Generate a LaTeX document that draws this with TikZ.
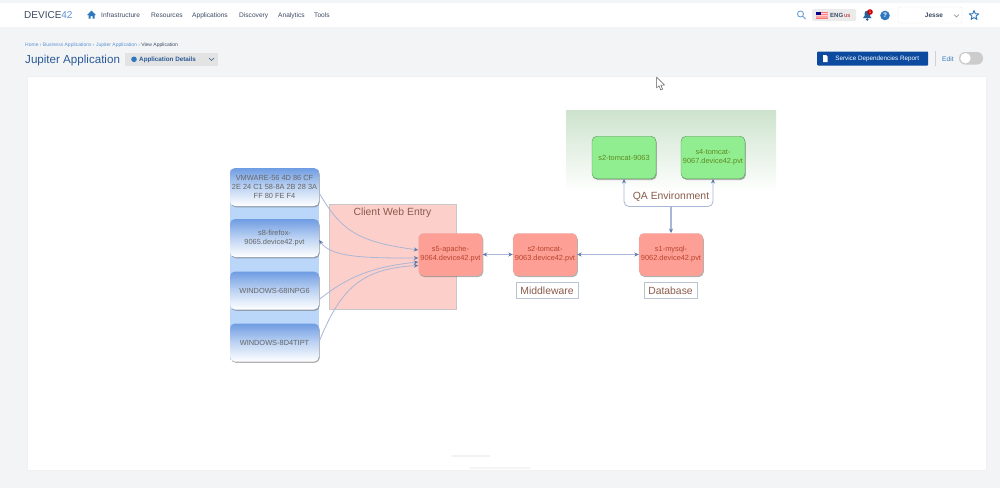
\documentclass[tikz,border=0pt]{standalone}
\usepackage{fontspec}
\setmainfont{Liberation Sans}
\usetikzlibrary{shadows,arrows.meta,calc}
\definecolor{pagebg}{HTML}{F3F4F6}
\definecolor{navtxt}{HTML}{3D4A63}
\definecolor{linkblue}{HTML}{5B93D6}
\definecolor{titleblue}{HTML}{2A5A96}
\definecolor{btnblue}{HTML}{0B4A9E}
\definecolor{iconblue}{HTML}{2F78BE}
\definecolor{lineblue}{HTML}{A9B6D6}
\definecolor{tipblue}{HTML}{5F78A8}
\definecolor{redfill}{HTML}{FE9F95}
\definecolor{redtxt}{HTML}{B8452F}
\definecolor{greenfill}{HTML}{90EE90}
\definecolor{greentxt}{HTML}{5E8A22}
\definecolor{labeltxt}{HTML}{8A5B4B}
\definecolor{bluetop}{HTML}{6F9CE2}
\definecolor{bluemid}{HTML}{BDD3F3}
\definecolor{bluepane}{HTML}{BAD6F8}
\definecolor{clientfill}{HTML}{FDCFCA}
\definecolor{qatop}{HTML}{CDE3CD}
\definecolor{graylabelline}{HTML}{B9C4D2}
\tikzset{
  navitem/.style={font=\fontsize{6.6}{8}\selectfont,text=navtxt,inner sep=0pt,anchor=base west},
  crumb/.style={font=\fontsize{5}{6}\selectfont,text=linkblue,inner sep=0pt,anchor=base west},
  basebox/.style={rounded corners=5pt,inner sep=0pt,align=center,font=\fontsize{7.4}{9}\selectfont,minimum width=64pt,minimum height=42.5pt,
     drop shadow={shadow xshift=0.8pt,shadow yshift=-1.3pt,fill=black!60,opacity=.5}},
  bluebox/.style={basebox,minimum width=89pt,minimum height=38pt,text=black!60,
     top color=bluetop,bottom color=white,middle color=bluemid},
  redbox/.style={basebox,fill=redfill,draw=black!30,densely dotted,text=redtxt},
  greenbox/.style={basebox,fill=greenfill,draw=black!30!green!30!gray,text=greentxt},
  grouplabel/.style={font=\fontsize{10.4}{13}\selectfont,text=labeltxt,inner sep=0pt},
  labelbox/.style={grouplabel,draw=graylabelline,fill=white,minimum height=16pt},
  conn/.style={draw=lineblue,line width=0.8pt,-{Stealth[length=4.5pt,width=4pt,color=tipblue]}},
  connboth/.style={draw=lineblue,line width=0.8pt,{Stealth[length=4.5pt,width=4pt,color=tipblue]}-{Stealth[length=4.5pt,width=4pt,color=tipblue]}},
  connplain/.style={draw=lineblue,line width=0.8pt,rounded corners=5pt,-{Stealth[length=4.5pt,width=4pt,color=tipblue]}},
}
\begin{document}
\begin{tikzpicture}[x=1pt,y=-1pt]
\useasboundingbox (0,0) rectangle (1000,488);
\fill[pagebg] (0,0) rectangle (1000,488);
% top bar
\fill[white] (0,3) rectangle (1000,27);
\node[inner sep=0pt,anchor=base west,font=\fontsize{10}{12}\selectfont,text=navtxt] (logo) at (24,18.5) {DEVICE\textcolor{linkblue}{42}};
% home icon
\fill[iconblue] (87,15) -- (91.5,10.5) -- (96,15) -- (94.5,15) -- (94.5,18.5) -- (92.5,18.5) -- (92.5,16) -- (90.5,16) -- (90.5,18.5) -- (88.5,18.5) -- (88.5,15) -- cycle;
\node[navitem] (n1) at (101,17.3) {Infrastructure};
\node[navitem] (n2) at (151,17.3) {Resources};
\node[navitem] (n3) at (192,17.3) {Applications};
\node[navitem] (n4) at (239,17.3) {Discovery};
\node[navitem] (n5) at (278,17.3) {Analytics};
\node[navitem] (n6) at (314,17.3) {Tools};
% right side of bar
\draw[iconblue!70,line width=0.9pt] (800.5,14) circle (3pt) (802.7,16.2) -- (805.5,19);
\fill[black!8,rounded corners=1.5pt] (812,9) rectangle (856,21);
\fill[red!55!white] (816,12) rectangle (828,18.5);
\fill[white] (816,13.3) rectangle (828,14) (816,15) rectangle (828,15.7) (816,16.7) rectangle (828,17.4);
\fill[blue!55!black] (816,12) rectangle (821,15);
\node[inner sep=0pt,anchor=base west,font=\bfseries\fontsize{6}{7}\selectfont,text=navtxt] (lang) at (830,17.2) {ENG\,\textcolor{red!50!gray}{\fontsize{4.5}{5}\selectfont US}};
\fill[iconblue!80!black] (863,18) -- (864.5,16) -- (864.5,13.5) arc[start angle=180,end angle=0,radius=2.8pt] -- (870,16) -- (871.5,18) -- cycle;
\fill[iconblue!80!black] (867.2,19.5) circle (1.3pt);
\fill[red!80!black] (870,12) circle (2.8pt);
\node[inner sep=0pt,font=\fontsize{3.5}{4}\selectfont,text=white] (bellcount) at (870,12) {1};
\fill[iconblue] (885,15.5) circle (4.8pt);
\node[inner sep=0pt,font=\bfseries\fontsize{6.5}{7}\selectfont,text=white] (help) at (885,15.5) {?};
\draw[black!8,fill=white,rounded corners=1.5pt] (898,7) rectangle (962,23);
\node[inner sep=0pt,anchor=base,font=\bfseries\fontsize{6.5}{8}\selectfont,text=navtxt] (user) at (934,17.3) {Jesse};
\draw[navtxt!70,line width=0.6pt] (954,14.5) -- (956.5,17) -- (959,14.5);
\draw[iconblue,line width=0.9pt,line join=round] (974,10.5) -- (975.3,13.7) -- (978.7,13.9) -- (976,16.1) -- (976.9,19.4) -- (974,17.6) -- (971.1,19.4) -- (972,16.1) -- (969.3,13.9) -- (972.7,13.7) -- cycle;
% breadcrumb and title
\node[crumb] (crumbs) at (25,46) {Home › Business Applications › Jupiter Application › \textcolor{navtxt}{View Application}};
\node[inner sep=0pt,anchor=base west,font=\fontsize{11.6}{15}\selectfont,text=titleblue] (title) at (25,63.5) {Jupiter Application};
\fill[black!11] (125,53) rectangle (218,66);
\fill[iconblue] (134,59.3) circle (2.8pt);
\node[inner sep=0pt,anchor=base west,font=\bfseries\fontsize{6.3}{8}\selectfont,text=titleblue] (details) at (139,61.7) {Application Details};
\draw[titleblue,line width=0.6pt] (209,58) -- (211.5,60.5) -- (214,58);
\node[fill=btnblue,text=white,font=\fontsize{6.3}{8}\selectfont,minimum width=111pt,minimum height=14pt,inner sep=0pt,rounded corners=0.8pt,anchor=west] (report) at (817,58.5) {\hspace{9pt}Service Dependencies Report};
\fill[white] (823,55) -- (826,55) -- (827.5,56.5) -- (827.5,62) -- (823,62) -- cycle;
\draw[black!18] (935,51) -- (935,66);
\node[inner sep=0pt,anchor=base west,font=\fontsize{6.6}{8}\selectfont,text=iconblue] (edit) at (942,61) {Edit};
\fill[black!20,rounded corners=6pt] (959,52) rectangle (983,64.5);
\fill[white] (965.5,58.2) circle (5.2pt);
% panel
\draw[black!6,fill=white] (27,76) rectangle (986,470);
% faint artefact at bottom
\fill[black!5] (452,455) rectangle (490,456.5);
\fill[black!4] (470,467) rectangle (530,468.5);
% groups
\fill[bluepane] (230,170) rectangle (319,360);
\fill[fill=clientfill,draw=black!22] (329,204) rectangle (456,309);
\node[grouplabel] (clientlabel) at (392.5,212.5) {Client Web Entry};
\shade[top color=qatop,bottom color=white] (566,110) rectangle (776,192);
% blue boxes
\node[bluebox] (vm) at (274.5,187) {VMWARE-56 4D 86 CF\\2E 24 C1 58-8A 2B 28 3A\\FF 80 FE F4};
\node[bluebox] (s8) at (274.5,238) {s8-firefox-\\9065.device42.pvt};
\node[bluebox] (w6) at (274.5,290.5) {WINDOWS-68INPG6};
\node[bluebox] (w8) at (274.5,342.5) {WINDOWS-8D4TIPT};
% red boxes
\node[redbox] (s5) at (450.5,254.5) {s5-apache-\\9064.device42.pvt};
\node[redbox] (s2d) at (545,254.5) {s2-tomcat-\\9063.device42.pvt};
\node[redbox] (s1) at (671,254.5) {s1-mysql-\\9062.device42.pvt};
% green boxes
\node[greenbox] (s2g) at (624,157.5) {s2-tomcat-9063};
\node[greenbox] (s4) at (713,157.5) {s4-tomcat-\\9067.device42.pvt};
% labels
\node[labelbox,minimum width=62pt] (mw) at (547,290.5) {Middleware};
\node[labelbox,minimum width=53pt] (db) at (670.5,290.5) {Database};
% connectors
\draw[conn] ([yshift=-6pt]vm.east) .. controls +(22,38) and +(-60,-8) .. ([yshift=4.5pt]s5.west);
\draw[connboth] ([yshift=-2pt]s8.east) .. controls +(12,18) and +(-50,0) .. ([yshift=-3.5pt]s5.west);
\draw[conn] ([yshift=-9pt]w6.east) .. controls +(25,-20) and +(-50,5) .. ([yshift=-7.5pt]s5.west);
\draw[conn] ([yshift=1pt]w8.east) .. controls +(22,-55) and +(-55,3) .. ([yshift=-11pt]s5.west);
\draw[connboth] (s5.east) -- (s2d.west);
\draw[connboth] (s2d.east) -- (s1.west);
\coordinate (junction) at (671,206.5);
\draw[connplain] (junction) -| (s2g.south);
\draw[connplain] (junction) -| (s4.south);
\draw[conn,line width=1.1pt] (junction) -- (s1.north);
\node[grouplabel,fill=white,inner xsep=1pt,inner ysep=1pt] (qa) at (671,197) {QA Environment};
% mouse cursor
\draw[black!65,fill=white,line width=0.5pt,line join=round] (656.5,77) -- (656.5,88) -- (659,85.8) -- (660.8,90) -- (662.6,89.2) -- (660.8,85.2) -- (664.5,85) -- cycle;
\end{tikzpicture}
\end{document}
